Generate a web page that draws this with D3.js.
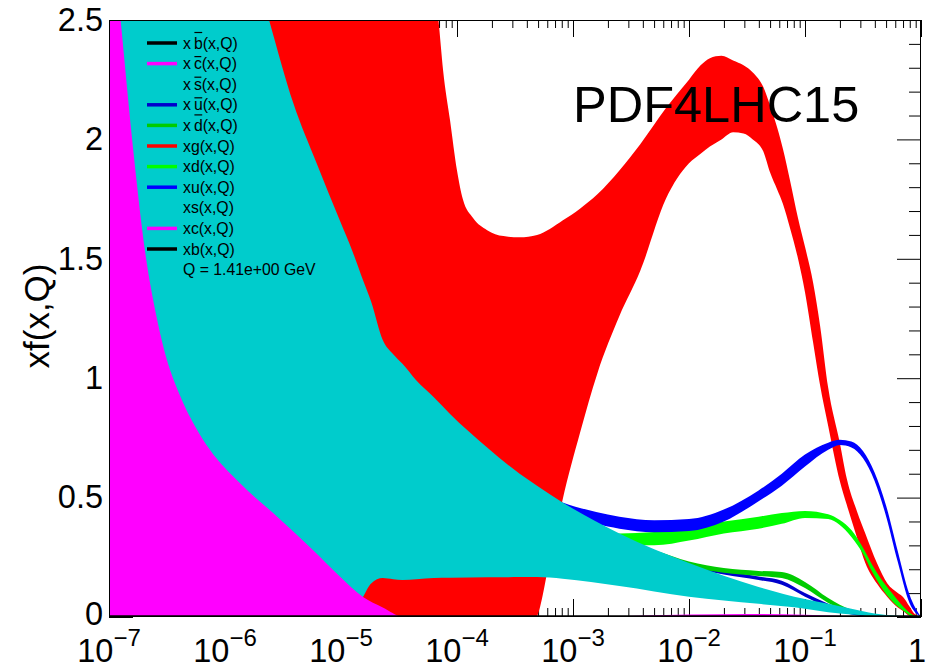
<!DOCTYPE html>
<html><head><meta charset="utf-8">
<script src="https://cdn.jsdelivr.net/npm/d3@7"></script>
<style>body{margin:0;background:#fff}svg{display:block;font-family:"Liberation Sans",Arial,sans-serif}</style>
</head><body><svg id="c" width="926" height="670"></svg>
<script>
// ---------------- DATA (x given as log10(x)) ----------------
const xTickExponents = [-7,-6,-5,-4,-3,-2,-1,0];
const yTickValues = [0,0.5,1,1.5,2,2.5];
const yTickLabels = ["0","0.5","1","1.5","2","2.5"];

// gluon band (red)
const gluonLogX = [-7,-6,-5,-4.5,-4.16,-4.12,-4.06,-4.0,-3.95,-3.86,-3.74,-3.6,-3.46,-3.31,-3.2,-3.09,-2.94,-2.79,-2.6,-2.42,-2.2,-2.0,-1.9,-1.82,-1.72,-1.62,-1.53,-1.45,-1.36,-1.3,-1.24,-1.19,-1.13,-1.06,-1.0,-0.93,-0.87,-0.8,-0.7,-0.64,-0.55,-0.48,-0.38,-0.29,-0.2,-0.155,-0.1,-0.05,0];
const gluonUp = [9,7,4.5,3.3,2.5,2.29,2.08,1.87,1.75,1.67,1.62,1.595,1.59,1.6,1.625,1.66,1.71,1.77,1.87,1.98,2.13,2.25,2.31,2.34,2.35,2.33,2.31,2.28,2.22,2.14,2.05,1.96,1.83,1.67,1.55,1.4,1.22,0.96,0.73,0.58,0.44,0.35,0.226,0.14,0.1,0.084,0.045,0.01,0];
const gluonLo = [-6,-4,-2,-1,-0.6,-0.55,-0.5,-0.45,-0.4,-0.33,-0.25,-0.16,-0.08,0,0.24,0.49,0.77,1.02,1.26,1.45,1.75,1.9,1.94,1.97,2.0,2.03,2.025,2.0,1.95,1.86,1.79,1.73,1.63,1.5,1.36,1.15,0.97,0.8,0.57,0.47,0.33,0.226,0.14,0.084,0.04,0.025,0.005,0,0];

// strange band (cyan)
const sLogX = [-7,-6.5,-6,-5.62,-5.41,-5.21,-5.01,-4.9,-4.81,-4.74,-4.64,-4.55,-4.47,-4.35,-4.2,-4.06,-3.74,-3.46,-3.31,-3.09,-2.6,-2.0,-1.4,-1.0,-0.8,-0.6,-0.4,-0.2,0];
const sUp = [6,4.3,3.2,2.5,2.15,1.9,1.66,1.53,1.41,1.32,1.16,1.1,1.06,0.99,0.92,0.85,0.71,0.6,0.55,0.48,0.35,0.226,0.126,0.075,0.055,0.035,0.015,0.005,0];
const sLo = [-3,-2,-1.2,-0.6,-0.35,-0.18,-0.05,0,0.084,0.14,0.163,0.158,0.155,0.158,0.163,0.164,0.166,0.167,0.167,0.16,0.13,0.085,0.055,0.035,0.02,0.01,0.004,0.001,0];

// charm band (magenta)
const cLogX = [-7,-6.9,-6.79,-6.68,-6.6,-6.52,-6.39,-6.26,-6.13,-5.87,-5.55,-5.24,-5.01,-4.81,-4.64,-4.47,-4.0,-3.3,-2.6,-2.0,-1.5,-1.0,-0.6,-0.3,0];
const cUp = [3.0,2.5,1.95,1.5,1.28,1.11,0.93,0.8,0.7,0.56,0.42,0.28,0.17,0.084,0.04,0,-0.02,-0.01,0.003,0.01,0.013,0.009,0.003,0,0];
const cLo = [-4,-3.5,-3,-2.6,-2.4,-2.2,-2,-1.8,-1.6,-1.3,-1,-0.7,-0.5,-0.35,-0.25,-0.2,-0.1,-0.04,-0.01,-0.005,-0.004,-0.003,-0.002,-0.001,0];

// u valence (blue)
const uLogX = [-4.0,-3.5,-3.09,-2.8,-2.6,-2.3,-2.0,-1.7,-1.4,-1.2,-1.0,-0.8,-0.7,-0.6,-0.5,-0.4,-0.3,-0.2,-0.1,0];
const uUp = [0.75,0.58,0.48,0.44,0.42,0.405,0.41,0.45,0.53,0.6,0.68,0.73,0.742,0.735,0.695,0.605,0.465,0.275,0.095,0];
const uLo = [0.65,0.52,0.44,0.39,0.37,0.355,0.36,0.4,0.485,0.55,0.63,0.7,0.72,0.71,0.665,0.57,0.42,0.23,0.06,0];

// d valence (bright green)
const dLogX = [-4.0,-3.5,-3.0,-2.6,-2.3,-2.0,-1.7,-1.4,-1.2,-1.0,-0.8,-0.7,-0.6,-0.5,-0.42,-0.35,-0.25,-0.15,-0.08,0];
const dUp = [0.55,0.42,0.37,0.35,0.356,0.377,0.4,0.42,0.435,0.444,0.43,0.406,0.364,0.29,0.218,0.163,0.1,0.042,0.012,0];
const dLo = [0.48,0.37,0.32,0.3,0.3,0.32,0.35,0.37,0.39,0.415,0.41,0.385,0.335,0.265,0.188,0.13,0.067,0.025,0.004,0];

// ubar (dark blue)
const ubarLogX = [-4.0,-3.0,-2.6,-2.0,-1.7,-1.4,-1.2,-1.0,-0.8,-0.6,-0.4,-0.2,0];
const ubarUp = [0.5,0.32,0.28,0.225,0.195,0.17,0.152,0.1,0.055,0.018,0.004,0.001,0];
const ubarLo = [0.44,0.29,0.25,0.205,0.178,0.155,0.135,0.085,0.04,0.01,0.001,0,0];

// dbar (dark green)
const dbarLogX = [-4.0,-3.0,-2.6,-2.3,-2.0,-1.7,-1.4,-1.2,-1.0,-0.8,-0.6,-0.4,-0.2,0];
const dbarUp = [0.52,0.34,0.31,0.28,0.232,0.205,0.193,0.188,0.147,0.08,0.03,0.008,0.001,0];
const dbarLo = [0.46,0.31,0.28,0.255,0.21,0.185,0.172,0.163,0.121,0.059,0.017,0.003,0,0];

// b quark (zero, black line)
const bLogX = [-7,0];
const bVal = [0,0];

const legendLabels = ["x#bar{b}(x,Q)","x#bar{c}(x,Q)","x#bar{s}(x,Q)","x#bar{u}(x,Q)","x#bar{d}(x,Q)","xg(x,Q)","xd(x,Q)","xu(x,Q)","xs(x,Q)","xc(x,Q)","xb(x,Q)"];
const legendColors = ["#000000","#ff00ff","#00cccc","#0000cc","#00cc00","#ff0000","#00ff00","#0000ff","#00cccc","#ff00ff","#000000"];
const scaleNote = "Q = 1.41e+00 GeV";
const titleText = "PDF4LHC15";
const yTitle = "xf(x,Q)";

// ---------------- DRAW ----------------
const m = {l:109, r:921, t:20, b:617};
const svg = d3.select("#c");
const x = d3.scaleLog().domain([1e-7,1]).range([m.l,m.r]);
const y = d3.scaleLinear().domain([0,2.5]).range([m.b,m.t]);

svg.append("defs").append("clipPath").attr("id","clip")
  .append("rect").attr("x",m.l).attr("y",m.t).attr("width",m.r-m.l).attr("height",m.b-m.t);

const majorX = xTickExponents.map(k=>Math.pow(10,k));
const minorX = [];
xTickExponents.slice(0,-1).forEach(k=>{for(let i=2;i<=9;i++) minorX.push(i*Math.pow(10,k));});
const majorY = yTickValues;
const minorY = d3.range(0,2.5001,0.1).filter(v=>Math.abs(v*2-Math.round(v*2))>1e-6);

function tickAxis(axis, tx, ty){
  const g = svg.append("g").attr("transform",`translate(${tx},${ty})`).call(axis);
  g.select(".domain").remove();
  g.selectAll("text").remove();
  g.selectAll("line").attr("stroke","#000").attr("stroke-width",1);
}
tickAxis(d3.axisBottom(x).tickValues(majorX).tickSizeInner(-18).tickSizeOuter(0), 0, m.b);
tickAxis(d3.axisBottom(x).tickValues(minorX).tickSizeInner(-9).tickSizeOuter(0), 0, m.b);
tickAxis(d3.axisTop(x).tickValues(majorX).tickSizeInner(-17).tickSizeOuter(0), 0, m.t);
tickAxis(d3.axisTop(x).tickValues(minorX).tickSizeInner(-8).tickSizeOuter(0), 0, m.t);
tickAxis(d3.axisRight(y).tickValues(majorY).tickSizeInner(-24).tickSizeOuter(0), m.r, 0);
tickAxis(d3.axisRight(y).tickValues(minorY).tickSizeInner(-12).tickSizeOuter(0), m.r, 0);
tickAxis(d3.axisLeft(y).tickValues(majorY).tickSizeInner(-24).tickSizeOuter(0), m.l, 0);
tickAxis(d3.axisLeft(y).tickValues(minorY).tickSizeInner(-12).tickSizeOuter(0), m.l, 0);

// bands
const plot = svg.append("g").attr("clip-path","url(#clip)");
const area = d3.area()
  .x(d=>x(Math.pow(10,d[0])))
  .y0(d=>y(d[2]))
  .y1(d=>y(d[1]))
  .curve(d3.curveMonotoneX);
function band(lx, up, lo, color){
  const pts = lx.map((v,i)=>[v,up[i],lo[i]]);
  plot.append("path").attr("d",area(pts)).attr("fill",color).attr("stroke","none");
}
band(ubarLogX, ubarUp, ubarLo, legendColors[3]);
band(dbarLogX, dbarUp, dbarLo, legendColors[4]);
band(gluonLogX, gluonUp, gluonLo, legendColors[5]);
band(dLogX, dUp, dLo, legendColors[6]);
band(uLogX, uUp, uLo, legendColors[7]);
band(sLogX, sUp, sLo, legendColors[8]);
band(cLogX, cUp, cLo, legendColors[9]);
const bLine = d3.line().x(d=>x(Math.pow(10,d[0]))).y(d=>y(d[1]));
plot.append("path").attr("d",bLine(bLogX.map((v,i)=>[v,bVal[i]])))
  .attr("fill","none").attr("stroke",legendColors[10]).attr("stroke-width",3.5);

// frame
svg.append("rect").attr("x",m.l+0.5).attr("y",m.t+0.5).attr("width",m.r-m.l-1).attr("height",m.b-m.t-1)
  .attr("fill","none").attr("stroke","#000").attr("stroke-width",1);

// y tick labels
svg.append("g").selectAll("text").data(yTickValues).join("text")
  .attr("x",103).attr("y",d=>y(d)).attr("dy",d=>d===0?"0.26em":"0.33em")
  .attr("text-anchor","end").attr("font-size",32.5).text((d,i)=>yTickLabels[i]);

// x tick labels
const xl = svg.append("g");
xTickExponents.forEach(k=>{
  const t = xl.append("text").attr("y",662).attr("font-size",32.5);
  if(k===0){ t.attr("x",926).attr("text-anchor","end").text("1"); }
  else {
    t.attr("x",x(Math.pow(10,k))).attr("text-anchor","middle");
    t.append("tspan").text("10");
    t.append("tspan").attr("font-size",24).attr("dy",-16).text("\u2212"+Math.abs(k));
  }
});

// y title
svg.append("text").attr("transform","translate(49,316) rotate(-90)")
  .attr("text-anchor","middle").attr("font-size",35).text(yTitle);

// big label
svg.append("text").attr("x",573).attr("y",122).attr("font-size",50.5).text(titleText);

// legend
const lg = svg.append("g");
const rowY = i => 43 + i*20.6;
legendLabels.forEach((lab,i)=>{
  const cy = rowY(i);
  lg.append("line").attr("x1",147).attr("x2",177).attr("y1",cy).attr("y2",cy)
    .attr("stroke",legendColors[i]).attr("stroke-width",3.5);
  const mm = lab.match(/^(.*)#bar\{(.)\}(.*)$/);
  const t = lg.append("text").attr("x",183).attr("y",cy+5.5).attr("font-size",15.8);
  if(mm){
    t.append("tspan").text(mm[1]);
    t.append("tspan").attr("dx",3).text(mm[2]);
    t.append("tspan").text(mm[3]);
    const node = t.node();
    const ext = node.getExtentOfChar(mm[1].length);
    const tall = /[bdfhklt]/.test(mm[2]);
    const by = cy + 5.5 - (tall ? 16 : 12.5);
    lg.append("line").attr("x1",ext.x+0.5).attr("x2",ext.x+ext.width-0.5).attr("y1",by).attr("y2",by)
      .attr("stroke","#000").attr("stroke-width",1.2);
  } else t.text(lab);
});
lg.append("text").attr("x",183).attr("y",rowY(11)+5).attr("font-size",15.8).text(scaleNote);
</script></body></html>
